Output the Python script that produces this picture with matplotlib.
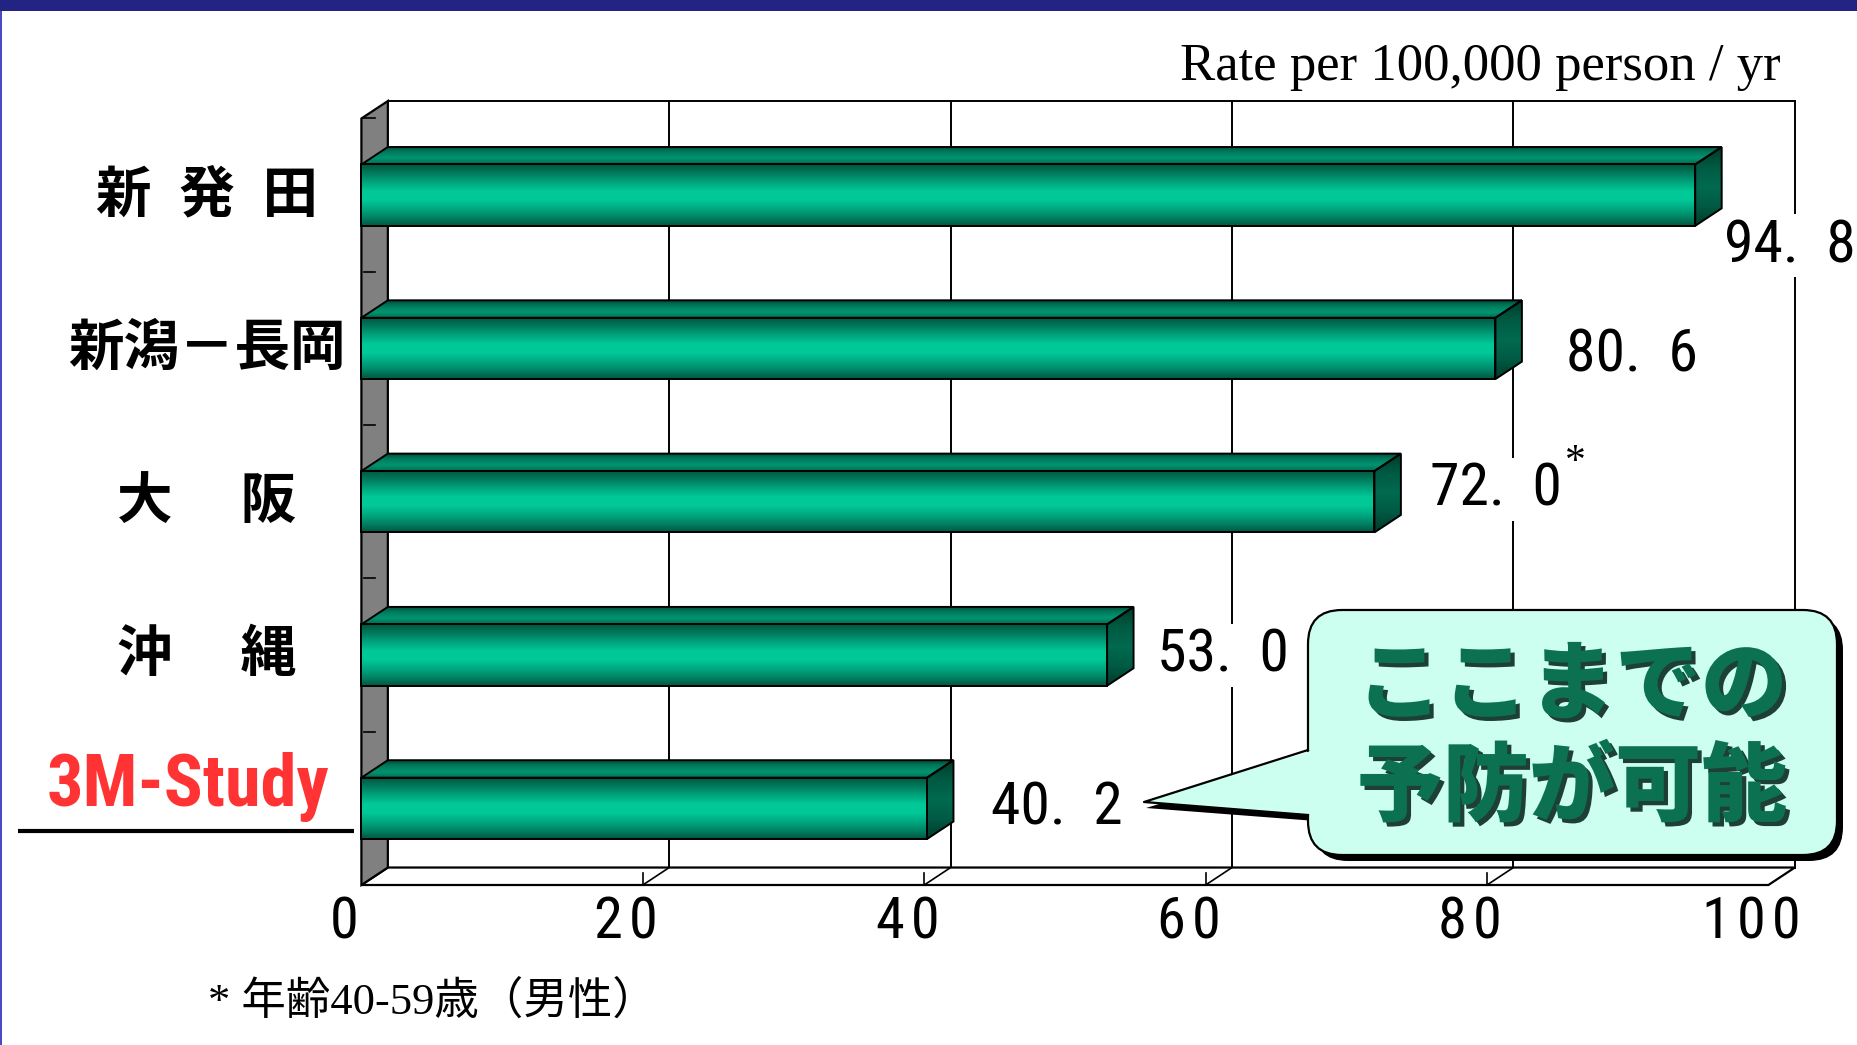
import numpy as np
import matplotlib.pyplot as plt
from matplotlib.patches import Polygon, Rectangle, FancyBboxPatch
from matplotlib.colors import to_rgb
from matplotlib import patheffects
from matplotlib import font_manager

# incidence rate per 100,000 person / yr
categories = ['新\u2002発\u2002田', '新潟－長岡', '大\u3000 阪', '沖\u3000 縄', '3M-Study']
rates = [94.8, 80.6, 72.0, 53.0, 40.2]
starred = [False, False, True, False, False]
xticks = [0, 20, 40, 60, 80, 100]

# label nudges (data units) beside each bar end
labelDx = [6.7, 9.7, 8.6, 8.2, 9.2]
labelDy = [0.33, 0.04, -0.08, 0.0, 0.0]

W, H = 1858, 1045
X0_PX, X_SCALE = 361.4, 14.07      # pixel of value 0 on the front plane, px per unit
Y0_PX, Y_SCALE = 118.5, 153.3      # pixel of top edge of the front plane, px per category
DX, DY = 1.88, 0.114               # depth of the 3d box
HALF = 0.2

FRONT = ['#00553e', '#007a5c', '#00a27c', '#00c896', '#00c998', '#00aa82', '#008566', '#00583f']
TOP = ['#004a36', '#007c5e', '#009470', '#006e52']
SIDE = ['#003c2b', '#005a42', '#006a50', '#005a44', '#003a2a']

CJK = ['Noto Sans CJK JP', 'DejaVu Sans']


def narrowFont(weight='normal'):
	# look for any condensed sans face that is installed
	byName = {}
	for f in font_manager.fontManager.ttflist:
		byName.setdefault(f.name, []).append(f)
	for fam in ('Liberation Sans Narrow', 'Roboto Condensed', 'Open Sans Condensed', 'Noto Sans Condensed'):
		if fam in byName:
			return font_manager.FontProperties(family=fam, weight=weight)
	order = ['extra-condensed', 'condensed', 'semi-condensed']
	best = None
	for f in font_manager.fontManager.ttflist:
		if f.name not in ('Noto Sans', 'Roboto', 'Open Sans', 'DejaVu Sans', 'Lato', 'Inter'):
			continue
		if f.stretch not in order or f.style != 'normal':
			continue
		w = f.weight if isinstance(f.weight, int) else font_manager.weight_dict.get(f.weight, 400)
		want = 700 if weight == 'bold' else 400
		score = (order.index(f.stretch), abs(w - want))
		if best is None or score < best[0]:
			best = (score, f.fname)
	if best is not None:
		return font_manager.FontProperties(fname=best[1])
	return font_manager.FontProperties(family='Liberation Sans', weight=weight)


def gradient(colors, n=96):
	rgb = np.array([to_rgb(c) for c in colors])
	pos = np.linspace(0, 1, len(colors))
	t = np.linspace(0, 1, n)
	arr = np.stack([np.interp(t, pos, rgb[:, k]) for k in range(3)], axis=-1)
	return arr[:, None, :]


def shadedFace(ax, verts, colors, z):
	xs = [v[0] for v in verts]
	ys = [v[1] for v in verts]
	im = ax.imshow(gradient(colors), extent=(min(xs), max(xs), max(ys), min(ys)),
				   aspect='auto', interpolation='bilinear', zorder=z)
	im.set_clip_path(Polygon(verts, closed=True, transform=ax.transData))
	ax.add_patch(Polygon(verts, closed=True, facecolor='none', edgecolor='black',
						 lw=1.4, zorder=z + 0.1, joinstyle='miter'))


def drawBox(ax, n):
	top, bot = -0.5, n - 0.5
	# back wall gridlines
	for t in xticks[1:]:
		ax.plot([t + DX, t + DX], [top - DY, bot - DY], color='black', lw=1.4, zorder=1)
	ax.plot([DX, 100 + DX], [top - DY, top - DY], color='black', lw=1.4, zorder=1)
	# floor
	ax.add_patch(Polygon([(0, bot), (100, bot), (100 + DX, bot - DY), (DX, bot - DY)],
						 closed=True, facecolor='white', edgecolor='black', lw=1.6, zorder=2))
	for t in xticks[1:-1]:
		ax.plot([t, t + DX], [bot, bot - DY], color='black', lw=1.2, zorder=2)
		ax.plot([t, t], [bot, bot - 0.08], color='black', lw=1.2, zorder=2)
	# left wall
	ax.add_patch(Polygon([(0, top), (DX, top - DY), (DX, bot - DY), (0, bot)],
						 closed=True, facecolor='#808080', edgecolor='black', lw=1.6, zorder=2))
	for k in range(n):
		ax.plot([0.15, 1.0], [k - 0.5, k - 0.5], color='black', lw=1.2, zorder=2)


def drawBars(ax, numFont):
	for i, v in enumerate(rates):
		top, bot = i - HALF, i + HALF
		shadedFace(ax, [(0, top), (v, top), (v + DX, top - DY), (DX, top - DY)], TOP, 3)
		shadedFace(ax, [(v, top), (v + DX, top - DY), (v + DX, bot - DY), (v, bot)], SIDE, 3)
		shadedFace(ax, [(0, top), (v, top), (v, bot), (0, bot)], FRONT, 3.5)

		txt = ax.text(v + labelDx[i], i + labelDy[i], f'{v:.1f}'.replace('.', '.  '),
					  ha='center', va='center', fontproperties=numFont, fontsize=43, zorder=6,
					  bbox=dict(facecolor='white', edgecolor='none', pad=2))
		if starred[i]:
			ax.annotate('*', xy=(1, 1), xycoords=txt, xytext=(4, -2), textcoords='offset pixels',
						ha='left', va='center', fontsize=30, family='Liberation Serif', zorder=6)


def main():
	fig = plt.figure(figsize=(W / 100, H / 100), dpi=100)
	ax = fig.add_axes([0, 0, 1, 1])
	ax.set_xlim(-X0_PX / X_SCALE, (W - X0_PX) / X_SCALE)
	ax.set_ylim(-0.5 + (H - Y0_PX) / Y_SCALE, -0.5 - Y0_PX / Y_SCALE)
	ax.set_autoscale_on(False)
	ax.axis('off')

	numFont = narrowFont()
	boldNarrow = narrowFont('bold')

	n = len(categories)
	drawBox(ax, n)
	drawBars(ax, numFont)

	# value axis labels under the floor
	for t in xticks:
		ax.text(t - 1.2, n - 0.5 + 0.25, '\u200a'.join(str(t)), ha='center', va='center',
				fontproperties=numFont, fontsize=42)

	# category names
	for i, name in enumerate(categories[:-1]):
		ax.text(-11.0, i, name, ha='center', va='center', fontsize=40,
				family=CJK, fontweight='bold')
	ax.text(-12.3, n - 1 - 0.14, categories[-1], ha='center', va='center', fontsize=52,
			fontproperties=boldNarrow, color='#ff3333')

	fig.text(1781 / W, 1 - 80 / H, 'Rate per 100,000 person / yr', ha='right',
			 va='baseline', fontsize=38, family='Liberation Serif')
	fig.text(208 / W, 1 - 1002 / H, '* 年齢40-59歳（男性）', ha='left', va='center',
			 fontsize=32, family=['Liberation Serif', 'Noto Sans CJK JP'])

	# frame band, underline and speech bubble in pixel space
	deco = fig.add_axes([0, 0, 1, 1], zorder=5)
	deco.set_xlim(0, W)
	deco.set_ylim(H, 0)
	deco.axis('off')
	deco.patch.set_alpha(0)

	deco.add_patch(Rectangle((0, 0), W, 11, facecolor='#232383', edgecolor='none'))
	deco.add_patch(Rectangle((0, 11), 2.5, H, facecolor='#4a4ac4', edgecolor='none'))
	deco.plot([18, 354], [831, 831], color='black', lw=3, solid_capstyle='butt')

	bx0, by0, bx1, by1 = 1308, 610, 1837, 855
	tail = [(bx0 + 6, 750), (1144, 802), (bx0 + 6, 815)]
	sh = 6
	deco.add_patch(FancyBboxPatch((bx0 + sh, by0 + sh), bx1 - bx0, by1 - by0,
								  boxstyle='round,pad=0,rounding_size=34',
								  facecolor='black', edgecolor='none'))
	deco.add_patch(Polygon([(x + 2, y + sh) for x, y in tail], closed=True,
						   facecolor='black', edgecolor='none'))
	deco.add_patch(FancyBboxPatch((bx0, by0), bx1 - bx0, by1 - by0,
								  boxstyle='round,pad=0,rounding_size=34',
								  facecolor='#ccfff0', edgecolor='black', lw=1.6))
	deco.add_patch(Polygon(tail, closed=True, facecolor='#ccfff0', edgecolor='none'))
	deco.plot([bx0, 1144, bx0], [750, 802, 815], color='black', lw=1.6)

	pe = [patheffects.withSimplePatchShadow(offset=(3, -3), shadow_rgbFace='#0b2a1f', alpha=0.9)]
	for line, yc in (('ここまでの', 687), ('予防が可能', 789)):
		deco.text(1572, yc, line, ha='center', va='center', fontsize=62, family=CJK,
				  fontweight='black', color='#0b7151', path_effects=pe)

	fig.savefig('out.png', dpi=100, facecolor='white')


if __name__ == '__main__':
	main()
